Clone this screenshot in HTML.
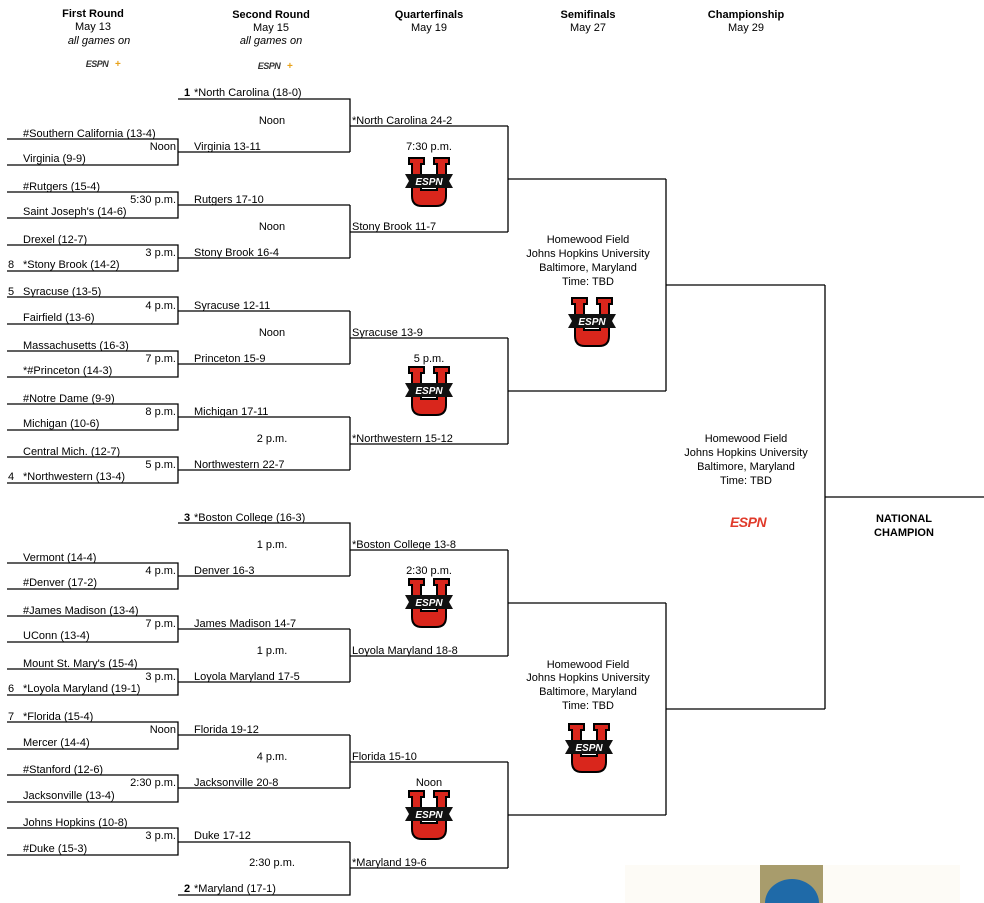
<!DOCTYPE html>
<html><head><meta charset="utf-8"><style>
html,body{margin:0;padding:0;background:#fff;}
svg{display:block;}
text{font-family:"Liberation Sans",Arial,sans-serif;font-size:11px;fill:#000;}
.b{font-weight:bold;}
.c{text-anchor:middle;}
.r{text-anchor:end;}
.it{font-style:italic;}
</style></head><body>
<svg width="984" height="903" viewBox="0 0 984 903" xmlns="http://www.w3.org/2000/svg">
<defs></defs>
<!-- Headers -->
<text x="93" y="17" class="c b">First Round</text>
<text x="93" y="30" class="c">May 13</text>
<text x="99" y="44" class="c it">all games on</text>
<text x="271" y="18" class="c b">Second Round</text>
<text x="271" y="31" class="c">May 15</text>
<text x="271" y="44" class="c it">all games on</text>
<text x="429" y="18" class="c b">Quarterfinals</text>
<text x="429" y="31" class="c">May 19</text>
<text x="588" y="18" class="c b">Semifinals</text>
<text x="588" y="31" class="c">May 27</text>
<text x="746" y="18" class="c b">Championship</text>
<text x="746" y="31" class="c">May 29</text>
<text x="97" y="67" class="c b it" style="font-size:9px;fill:#333;letter-spacing:-0.5px">ESPN</text><text x="115" y="67" class="b" style="font-size:10px;fill:#e8a21a">+</text>
<text x="269" y="69" class="c b it" style="font-size:9px;fill:#333;letter-spacing:-0.5px">ESPN</text><text x="287" y="69" class="b" style="font-size:10px;fill:#e8a21a">+</text>

<g stroke="#000" stroke-width="1.3" fill="none">
<!-- first round games -->
<path d="M7 139H178V165H7M178 152H350"/>
<path d="M7 192H178V218H7M178 205H350"/>
<path d="M7 245H178V271H7M178 258H350"/>
<path d="M7 297H178V324H7M178 311H350"/>
<path d="M7 351H178V377H7M178 364H350"/>
<path d="M7 404H178V430H7M178 417H350"/>
<path d="M7 457H178V483H7M178 470H350"/>
<path d="M7 563H178V589H7M178 576H350"/>
<path d="M7 616H178V642H7M178 629H350"/>
<path d="M7 669H178V695H7M178 682H350"/>
<path d="M7 722H178V749H7M178 735H350"/>
<path d="M7 775H178V802H7M178 788H350"/>
<path d="M7 828H178V855H7M178 842H350"/>
<!-- second round -->
<path d="M178 99H350V152M350 126H508"/>
<path d="M350 205V258M350 232H508"/>
<path d="M350 311V364M350 338H508"/>
<path d="M350 417V470M350 444H508"/>
<path d="M178 523H350V576M350 550H508"/>
<path d="M350 629V682M350 656H508"/>
<path d="M350 735V788M350 762H508"/>
<path d="M178 895H350V842M350 868H508"/>
<!-- QF -->
<path d="M508 126V232M508 179H666"/>
<path d="M508 338V444M508 391H666"/>
<path d="M508 550V656M508 603H666"/>
<path d="M508 762V868M508 815H666"/>
<!-- SF -->
<path d="M666 179V391M666 285H825"/>
<path d="M666 603V815M666 709H825"/>
<path d="M825 285V709M825 497H984"/>
</g>

<!-- First round names -->
<text x="23" y="137">#Southern California (13-4)</text><text x="23" y="162">Virginia (9-9)</text><text x="176" y="150" class="r">Noon</text>
<text x="23" y="190">#Rutgers (15-4)</text><text x="23" y="215">Saint Joseph's (14-6)</text><text x="176" y="203" class="r">5:30 p.m.</text>
<text x="23" y="243">Drexel (12-7)</text><text x="8" y="268">8</text><text x="23" y="268">*Stony Brook (14-2)</text><text x="176" y="256" class="r">3 p.m.</text>
<text x="8" y="295">5</text><text x="23" y="295">Syracuse (13-5)</text><text x="23" y="321">Fairfield (13-6)</text><text x="176" y="309" class="r">4 p.m.</text>
<text x="23" y="349">Massachusetts (16-3)</text><text x="23" y="374">*#Princeton (14-3)</text><text x="176" y="362" class="r">7 p.m.</text>
<text x="23" y="402">#Notre Dame (9-9)</text><text x="23" y="427">Michigan (10-6)</text><text x="176" y="415" class="r">8 p.m.</text>
<text x="23" y="455">Central Mich. (12-7)</text><text x="8" y="480">4</text><text x="23" y="480">*Northwestern (13-4)</text><text x="176" y="468" class="r">5 p.m.</text>
<text x="23" y="561">Vermont (14-4)</text><text x="23" y="586">#Denver (17-2)</text><text x="176" y="574" class="r">4 p.m.</text>
<text x="23" y="614">#James Madison (13-4)</text><text x="23" y="639">UConn (13-4)</text><text x="176" y="627" class="r">7 p.m.</text>
<text x="23" y="667">Mount St. Mary's (15-4)</text><text x="8" y="692">6</text><text x="23" y="692">*Loyola Maryland (19-1)</text><text x="176" y="680" class="r">3 p.m.</text>
<text x="8" y="720">7</text><text x="23" y="720">*Florida (15-4)</text><text x="23" y="746">Mercer (14-4)</text><text x="176" y="733" class="r">Noon</text>
<text x="23" y="773">#Stanford (12-6)</text><text x="23" y="799">Jacksonville (13-4)</text><text x="176" y="786" class="r">2:30 p.m.</text>
<text x="23" y="826">Johns Hopkins (10-8)</text><text x="23" y="852">#Duke (15-3)</text><text x="176" y="839" class="r">3 p.m.</text>

<!-- Second round -->
<text x="184" y="96" class="b">1</text><text x="194" y="96">*North Carolina (18-0)</text>
<text x="272" y="124" class="c">Noon</text>
<text x="194" y="150">Virginia 13-11</text>
<text x="194" y="203">Rutgers 17-10</text>
<text x="272" y="230" class="c">Noon</text>
<text x="194" y="256">Stony Brook 16-4</text>
<text x="194" y="309">Syracuse 12-11</text>
<text x="272" y="336" class="c">Noon</text>
<text x="194" y="362">Princeton 15-9</text>
<text x="194" y="415">Michigan 17-11</text>
<text x="272" y="442" class="c">2 p.m.</text>
<text x="194" y="468">Northwestern 22-7</text>
<text x="184" y="521" class="b">3</text><text x="194" y="521">*Boston College (16-3)</text>
<text x="272" y="548" class="c">1 p.m.</text>
<text x="194" y="574">Denver 16-3</text>
<text x="194" y="627">James Madison 14-7</text>
<text x="272" y="654" class="c">1 p.m.</text>
<text x="194" y="680">Loyola Maryland 17-5</text>
<text x="194" y="733">Florida 19-12</text>
<text x="272" y="760" class="c">4 p.m.</text>
<text x="194" y="786">Jacksonville 20-8</text>
<text x="194" y="839">Duke 17-12</text>
<text x="272" y="866" class="c">2:30 p.m.</text>
<text x="184" y="892" class="b">2</text><text x="194" y="892">*Maryland (17-1)</text>

<!-- QF -->
<text x="352" y="124">*North Carolina 24-2</text>
<text x="429" y="150" class="c">7:30 p.m.</text>
<text x="352" y="230">Stony Brook 11-7</text>
<text x="352" y="336">Syracuse 13-9</text>
<text x="429" y="362" class="c">5 p.m.</text>
<text x="352" y="442">*Northwestern 15-12</text>
<text x="352" y="548">*Boston College 13-8</text>
<text x="429" y="574" class="c">2:30 p.m.</text>
<text x="352" y="654">Loyola Maryland 18-8</text>
<text x="352" y="760">Florida 15-10</text>
<text x="429" y="786" class="c">Noon</text>
<text x="352" y="866">*Maryland 19-6</text>

<!-- SF info -->
<text x="588" y="243" class="c">Homewood Field</text>
<text x="588" y="257" class="c">Johns Hopkins University</text>
<text x="588" y="271" class="c">Baltimore, Maryland</text>
<text x="588" y="285" class="c">Time: TBD</text>
<text x="588" y="668" class="c">Homewood Field</text>
<text x="588" y="681" class="c">Johns Hopkins University</text>
<text x="588" y="695" class="c">Baltimore, Maryland</text>
<text x="588" y="709" class="c">Time: TBD</text>
<text x="746" y="442" class="c">Homewood Field</text>
<text x="746" y="456" class="c">Johns Hopkins University</text>
<text x="746" y="470" class="c">Baltimore, Maryland</text>
<text x="746" y="484" class="c">Time: TBD</text>
<text x="748" y="527" class="c b it" style="font-size:14px;fill:#e03a2a;letter-spacing:-0.5px">ESPN</text>
<text x="904" y="522" class="c b">NATIONAL</text>
<text x="904" y="536" class="c b">CHAMPION</text>

<!-- ESPNU logos -->
<g transform="translate(429,182)"><path d="M-20,-24H-5V-18H-8V8H8V-18H5V-24H20V-18H17V14Q17,24 7,24H-7Q-17,24 -17,14V-18H-20Z" fill="#d9261c" stroke="#000" stroke-width="2"/><polygon points="-24,-8 24,-8 20,-1 24,6 -24,6 -20,-1" fill="#111"/><text x="0" y="3" class="c b it" style="font-size:10px;fill:#fff">ESPN</text></g>
<g transform="translate(429,391)"><path d="M-20,-24H-5V-18H-8V8H8V-18H5V-24H20V-18H17V14Q17,24 7,24H-7Q-17,24 -17,14V-18H-20Z" fill="#d9261c" stroke="#000" stroke-width="2"/><polygon points="-24,-8 24,-8 20,-1 24,6 -24,6 -20,-1" fill="#111"/><text x="0" y="3" class="c b it" style="font-size:10px;fill:#fff">ESPN</text></g>
<g transform="translate(429,603)"><path d="M-20,-24H-5V-18H-8V8H8V-18H5V-24H20V-18H17V14Q17,24 7,24H-7Q-17,24 -17,14V-18H-20Z" fill="#d9261c" stroke="#000" stroke-width="2"/><polygon points="-24,-8 24,-8 20,-1 24,6 -24,6 -20,-1" fill="#111"/><text x="0" y="3" class="c b it" style="font-size:10px;fill:#fff">ESPN</text></g>
<g transform="translate(429,815)"><path d="M-20,-24H-5V-18H-8V8H8V-18H5V-24H20V-18H17V14Q17,24 7,24H-7Q-17,24 -17,14V-18H-20Z" fill="#d9261c" stroke="#000" stroke-width="2"/><polygon points="-24,-8 24,-8 20,-1 24,6 -24,6 -20,-1" fill="#111"/><text x="0" y="3" class="c b it" style="font-size:10px;fill:#fff">ESPN</text></g>
<g transform="translate(592,322)"><path d="M-20,-24H-5V-18H-8V8H8V-18H5V-24H20V-18H17V14Q17,24 7,24H-7Q-17,24 -17,14V-18H-20Z" fill="#d9261c" stroke="#000" stroke-width="2"/><polygon points="-24,-8 24,-8 20,-1 24,6 -24,6 -20,-1" fill="#111"/><text x="0" y="3" class="c b it" style="font-size:10px;fill:#fff">ESPN</text></g>
<g transform="translate(589,748)"><path d="M-20,-24H-5V-18H-8V8H8V-18H5V-24H20V-18H17V14Q17,24 7,24H-7Q-17,24 -17,14V-18H-20Z" fill="#d9261c" stroke="#000" stroke-width="2"/><polygon points="-24,-8 24,-8 20,-1 24,6 -24,6 -20,-1" fill="#111"/><text x="0" y="3" class="c b it" style="font-size:10px;fill:#fff">ESPN</text></g>

<!-- NCAA logo bottom -->
<rect x="625" y="865" width="335" height="38" fill="#fdfbf6"/>
<rect x="760" y="865" width="63" height="38" fill="#a89c6c"/>
<ellipse cx="792" cy="903" rx="27" ry="24" fill="#1f6aa8"/>
</svg>
</body></html>
